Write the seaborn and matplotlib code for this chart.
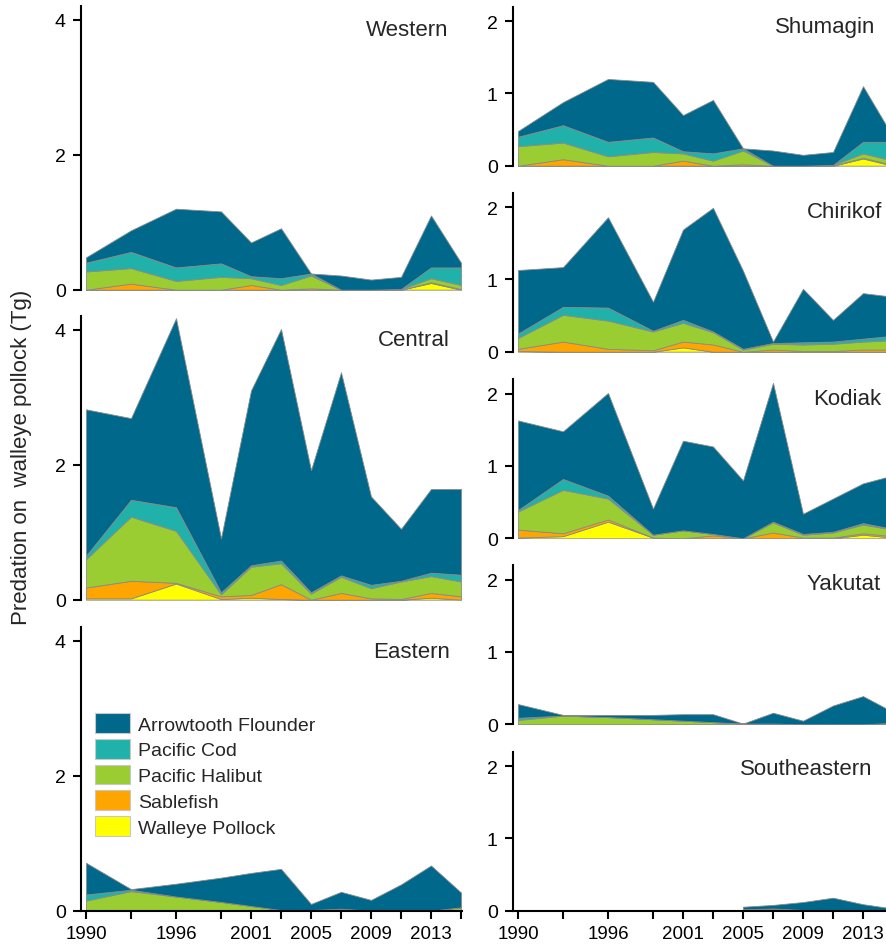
import numpy as np
import pandas as pd
import matplotlib
matplotlib.use("Agg")
import matplotlib.pyplot as plt
import seaborn as sns
from matplotlib.patches import Patch

# ---------------- data ----------------
years = [1990, 1993, 1996, 1999, 2001, 2003, 2005, 2007, 2009, 2011, 2013, 2015]
year_labels = ["1990", "", "1996", "", "2001", "", "2005", "", "2009", "", "2013", ""]
species = ["Walleye Pollock", "Sablefish", "Pacific Halibut", "Pacific Cod", "Arrowtooth Flounder"]
species_colors = ["#FFFF00", "#FFA500", "#9ACD32", "#20B2AA", "#00688B"]

nan = np.nan

# Western
western_wp = [0, 0, 0, 0, 0, 0, 0, 0, 0, 0, 0.10, 0]
western_sb = [0, 0.09, 0, 0, 0.07, 0, 0.02, 0, 0, 0, 0.01, 0.01]
western_hb = [0.27, 0.23, 0.13, 0.19, 0.10, 0.07, 0.19, 0, 0, 0.01, 0.06, 0.06]
western_pc = [0.13, 0.24, 0.20, 0.20, 0.03, 0.10, 0.03, 0, 0, 0, 0.16, 0.26]
western_af = [0.08, 0.32, 0.87, 0.77, 0.50, 0.74, 0.00, 0.21, 0.15, 0.18, 0.77, 0.07]

# Central
central_wp = [0.02, 0.02, 0.24, 0.01, 0.03, 0.01, 0, 0, 0, 0, 0.03, 0]
central_sb = [0.16, 0.26, 0.01, 0.04, 0.04, 0.22, 0, 0.10, 0.02, 0.01, 0.07, 0.05]
central_hb = [0.42, 0.95, 0.77, 0.03, 0.42, 0.31, 0.09, 0.24, 0.15, 0.26, 0.25, 0.22]
central_pc = [0.05, 0.25, 0.35, 0.03, 0.02, 0.04, 0.02, 0.02, 0.05, 0.01, 0.05, 0.10]
central_af = [2.17, 1.21, 2.80, 0.80, 2.59, 3.43, 1.81, 3.01, 1.31, 0.77, 1.24, 1.27]

# Eastern
eastern_wp = [0, 0, 0, 0, 0, 0, 0, 0, 0, 0, 0, 0]
eastern_sb = [0, 0, 0, 0, 0, 0, 0, 0, 0, 0, 0, 0]
eastern_hb = [0.15, 0.29, 0.21, 0.13, 0.07, 0.01, 0.01, 0.03, 0, 0, 0, 0.05]
eastern_pc = [0.09, 0.02, 0, 0, 0, 0, 0, 0, 0, 0, 0, 0]
eastern_af = [0.47, 0.01, 0.19, 0.36, 0.49, 0.61, 0.09, 0.25, 0.16, 0.39, 0.67, 0.22]

# Shumagin
shumagin_wp = [0, 0, 0, 0, 0, 0, 0, 0, 0, 0, 0.10, 0]
shumagin_sb = [0, 0.09, 0, 0, 0.07, 0, 0.02, 0, 0, 0, 0.01, 0.01]
shumagin_hb = [0.27, 0.23, 0.13, 0.19, 0.10, 0.07, 0.19, 0, 0, 0.01, 0.06, 0.06]
shumagin_pc = [0.13, 0.24, 0.20, 0.20, 0.03, 0.10, 0.03, 0, 0, 0, 0.16, 0.26]
shumagin_af = [0.08, 0.32, 0.87, 0.77, 0.50, 0.74, 0.00, 0.21, 0.15, 0.18, 0.77, 0.07]

# Chirikof
chirikof_wp = [0.01, 0, 0, 0, 0.06, 0, 0, 0, 0, 0, 0, 0]
chirikof_sb = [0.03, 0.14, 0.04, 0.02, 0.08, 0.10, 0, 0.03, 0.01, 0.01, 0.03, 0.03]
chirikof_hb = [0.15, 0.37, 0.39, 0.26, 0.26, 0.17, 0.03, 0.08, 0.09, 0.10, 0.11, 0.13]
chirikof_pc = [0.06, 0.11, 0.18, 0.01, 0.04, 0.01, 0.01, 0.01, 0.03, 0.03, 0.04, 0.06]
chirikof_af = [0.88, 0.55, 1.25, 0.40, 1.25, 1.71, 1.08, 0.02, 0.74, 0.30, 0.63, 0.54]

# Kodiak
kodiak_wp = [0.01, 0.03, 0.23, 0.01, 0, 0, 0, 0, 0, 0, 0.05, 0.01]
kodiak_sb = [0.11, 0.04, 0.03, 0, 0, 0.04, 0, 0.08, 0.01, 0.01, 0.02, 0.02]
kodiak_hb = [0.25, 0.60, 0.29, 0.04, 0.11, 0.02, 0, 0.14, 0.04, 0.07, 0.12, 0.09]
kodiak_pc = [0.02, 0.15, 0.04, 0, 0, 0, 0, 0.01, 0.01, 0.01, 0.02, 0.01]
kodiak_af = [1.24, 0.66, 1.42, 0.36, 1.24, 1.21, 0.80, 1.92, 0.28, 0.46, 0.55, 0.74]

# Yakutat
yakutat_wp = [0, 0, 0, 0, 0, 0, 0, 0, 0, 0, 0, 0]
yakutat_sb = [0, 0, 0, 0, 0, 0, 0, 0, 0, 0, 0, 0]
yakutat_hb = [0.06, 0.12, 0.10, 0.07, 0.05, 0.03, 0.01, 0.01, 0, 0, 0, 0.02]
yakutat_pc = [0.03, 0, 0, 0, 0, 0, 0, 0, 0, 0, 0, 0]
yakutat_af = [0.19, 0.01, 0.03, 0.06, 0.09, 0.11, 0, 0.15, 0.05, 0.26, 0.39, 0.15]

# Southeastern (no data before 2005)
southeastern_wp = [nan, nan, nan, nan, nan, nan, 0, 0, 0, 0, 0, 0]
southeastern_sb = [nan, nan, nan, nan, nan, nan, 0, 0, 0, 0, 0, 0]
southeastern_hb = [nan, nan, nan, nan, nan, nan, 0.02, 0.03, 0.01, 0, 0, 0.01]
southeastern_pc = [nan, nan, nan, nan, nan, nan, 0, 0, 0, 0, 0, 0]
southeastern_af = [nan, nan, nan, nan, nan, nan, 0.035, 0.05, 0.11, 0.18, 0.09, 0.02]

regions = {
    "Western": [western_wp, western_sb, western_hb, western_pc, western_af],
    "Central": [central_wp, central_sb, central_hb, central_pc, central_af],
    "Eastern": [eastern_wp, eastern_sb, eastern_hb, eastern_pc, eastern_af],
    "Shumagin": [shumagin_wp, shumagin_sb, shumagin_hb, shumagin_pc, shumagin_af],
    "Chirikof": [chirikof_wp, chirikof_sb, chirikof_hb, chirikof_pc, chirikof_af],
    "Kodiak": [kodiak_wp, kodiak_sb, kodiak_hb, kodiak_pc, kodiak_af],
    "Yakutat": [yakutat_wp, yakutat_sb, yakutat_hb, yakutat_pc, yakutat_af],
    "Southeastern": [southeastern_wp, southeastern_sb, southeastern_hb,
                     southeastern_pc, southeastern_af],
}

rows = []
for reg, series in regions.items():
    for sp, vals in zip(species, series):
        for yr, v in zip(years, vals):
            rows.append({"region": reg, "species": sp, "year": yr, "value": v})
df = pd.DataFrame(rows)

# ---------------- style ----------------
sns.set_theme(style="ticks")
plt.rcParams["font.family"] = ["Liberation Sans", "DejaVu Sans"]
plt.rcParams["axes.linewidth"] = 1.5

W, H = 887, 945
fig = plt.figure(figsize=(W / 100, H / 100), dpi=100)


def add_axes_px(x0, y_zero, w, h):
    return fig.add_axes([x0 / W, (H - y_zero) / H, w / W, h / H])


XMIN, XMAX = 1989.667, 2015.1
px_per_year = 15.0
ax_w = (XMAX - XMIN) * px_per_year

layout = {
    # name: (x0, y_zero, ylim_top, px_per_unit, yticks, bottom_axis, title_xy)
    "Western": (81, 290.7, 4.2, 67.5, [0, 2, 4], False, (448, 31)),
    "Central": (81, 600.7, 4.2, 67.5, [0, 2, 4], False, (450, 341)),
    "Eastern": (81, 911.7, 4.2, 67.5, [0, 2, 4], True, (450, 652)),
    "Shumagin": (513, 166.7, 2.2, 72.3, [0, 1, 2], False, (875, 28)),
    "Chirikof": (513, 352.7, 2.2, 72.3, [0, 1, 2], False, (882, 213)),
    "Kodiak": (513, 539.3, 2.2, 72.3, [0, 1, 2], False, (881, 400)),
    "Yakutat": (513, 725.3, 2.2, 72.3, [0, 1, 2], False, (881, 585)),
    "Southeastern": (513, 911.7, 2.2, 72.3, [0, 1, 2], True, (872, 770)),
}

for reg, (x0, y0, ytop, ppu, yt, has_x, (tx, ty)) in layout.items():
    ax = add_axes_px(x0, y0, ax_w, ytop * ppu)
    sub = df[df.region == reg].pivot(index="year", columns="species", values="value")
    sub = sub[species]
    ax.stackplot(sub.index.values, *[sub[s].values for s in species],
                 colors=species_colors, edgecolor="#8a8a8a", linewidth=0.6)
    ax.set_xlim(XMIN, XMAX)
    ax.set_ylim(0, ytop)
    ax.set_yticks(yt)
    ax.set_yticklabels([str(v) for v in yt], fontsize=14)
    ax.tick_params(axis="y", length=6, width=1.5, pad=5, colors="black")
    sns.despine(ax=ax, top=True, right=True, bottom=not has_x)
    ax.spines["left"].set_color("black")
    if has_x:
        ax.set_xticks(years)
        ax.set_xticklabels(year_labels, fontsize=13.5)
        ax.tick_params(axis="x", length=6, width=1.5, pad=4, colors="black")
        ax.spines["bottom"].set_color("black")
    else:
        ax.set_xticks([])
        ax.tick_params(axis="x", bottom=False, labelbottom=False)
    ax.set_xlabel("")
    ax.set_ylabel("")
    ax.set_facecolor("none")
    fig.text(tx / W, 1 - ty / H, reg, ha="right", va="center", fontsize=16)

fig.text(22 / W, 1 - 457 / H, "Predation on  walleye pollock (Tg)",
         rotation=90, ha="center", va="center", fontsize=16)

handles = [Patch(facecolor=c, edgecolor="#c8c8c8", linewidth=0.8)
           for c in species_colors][::-1]
labels = species[::-1]
fig.legend(handles, labels, loc="upper left",
           bbox_to_anchor=(95 / W, 1 - 714 / H), bbox_transform=fig.transFigure,
           frameon=False, borderpad=0, borderaxespad=0, handlelength=1.8,
           handleheight=1.2, handletextpad=0.4, labelspacing=0.27, fontsize=14)

fig.savefig("out.png", dpi=100)
